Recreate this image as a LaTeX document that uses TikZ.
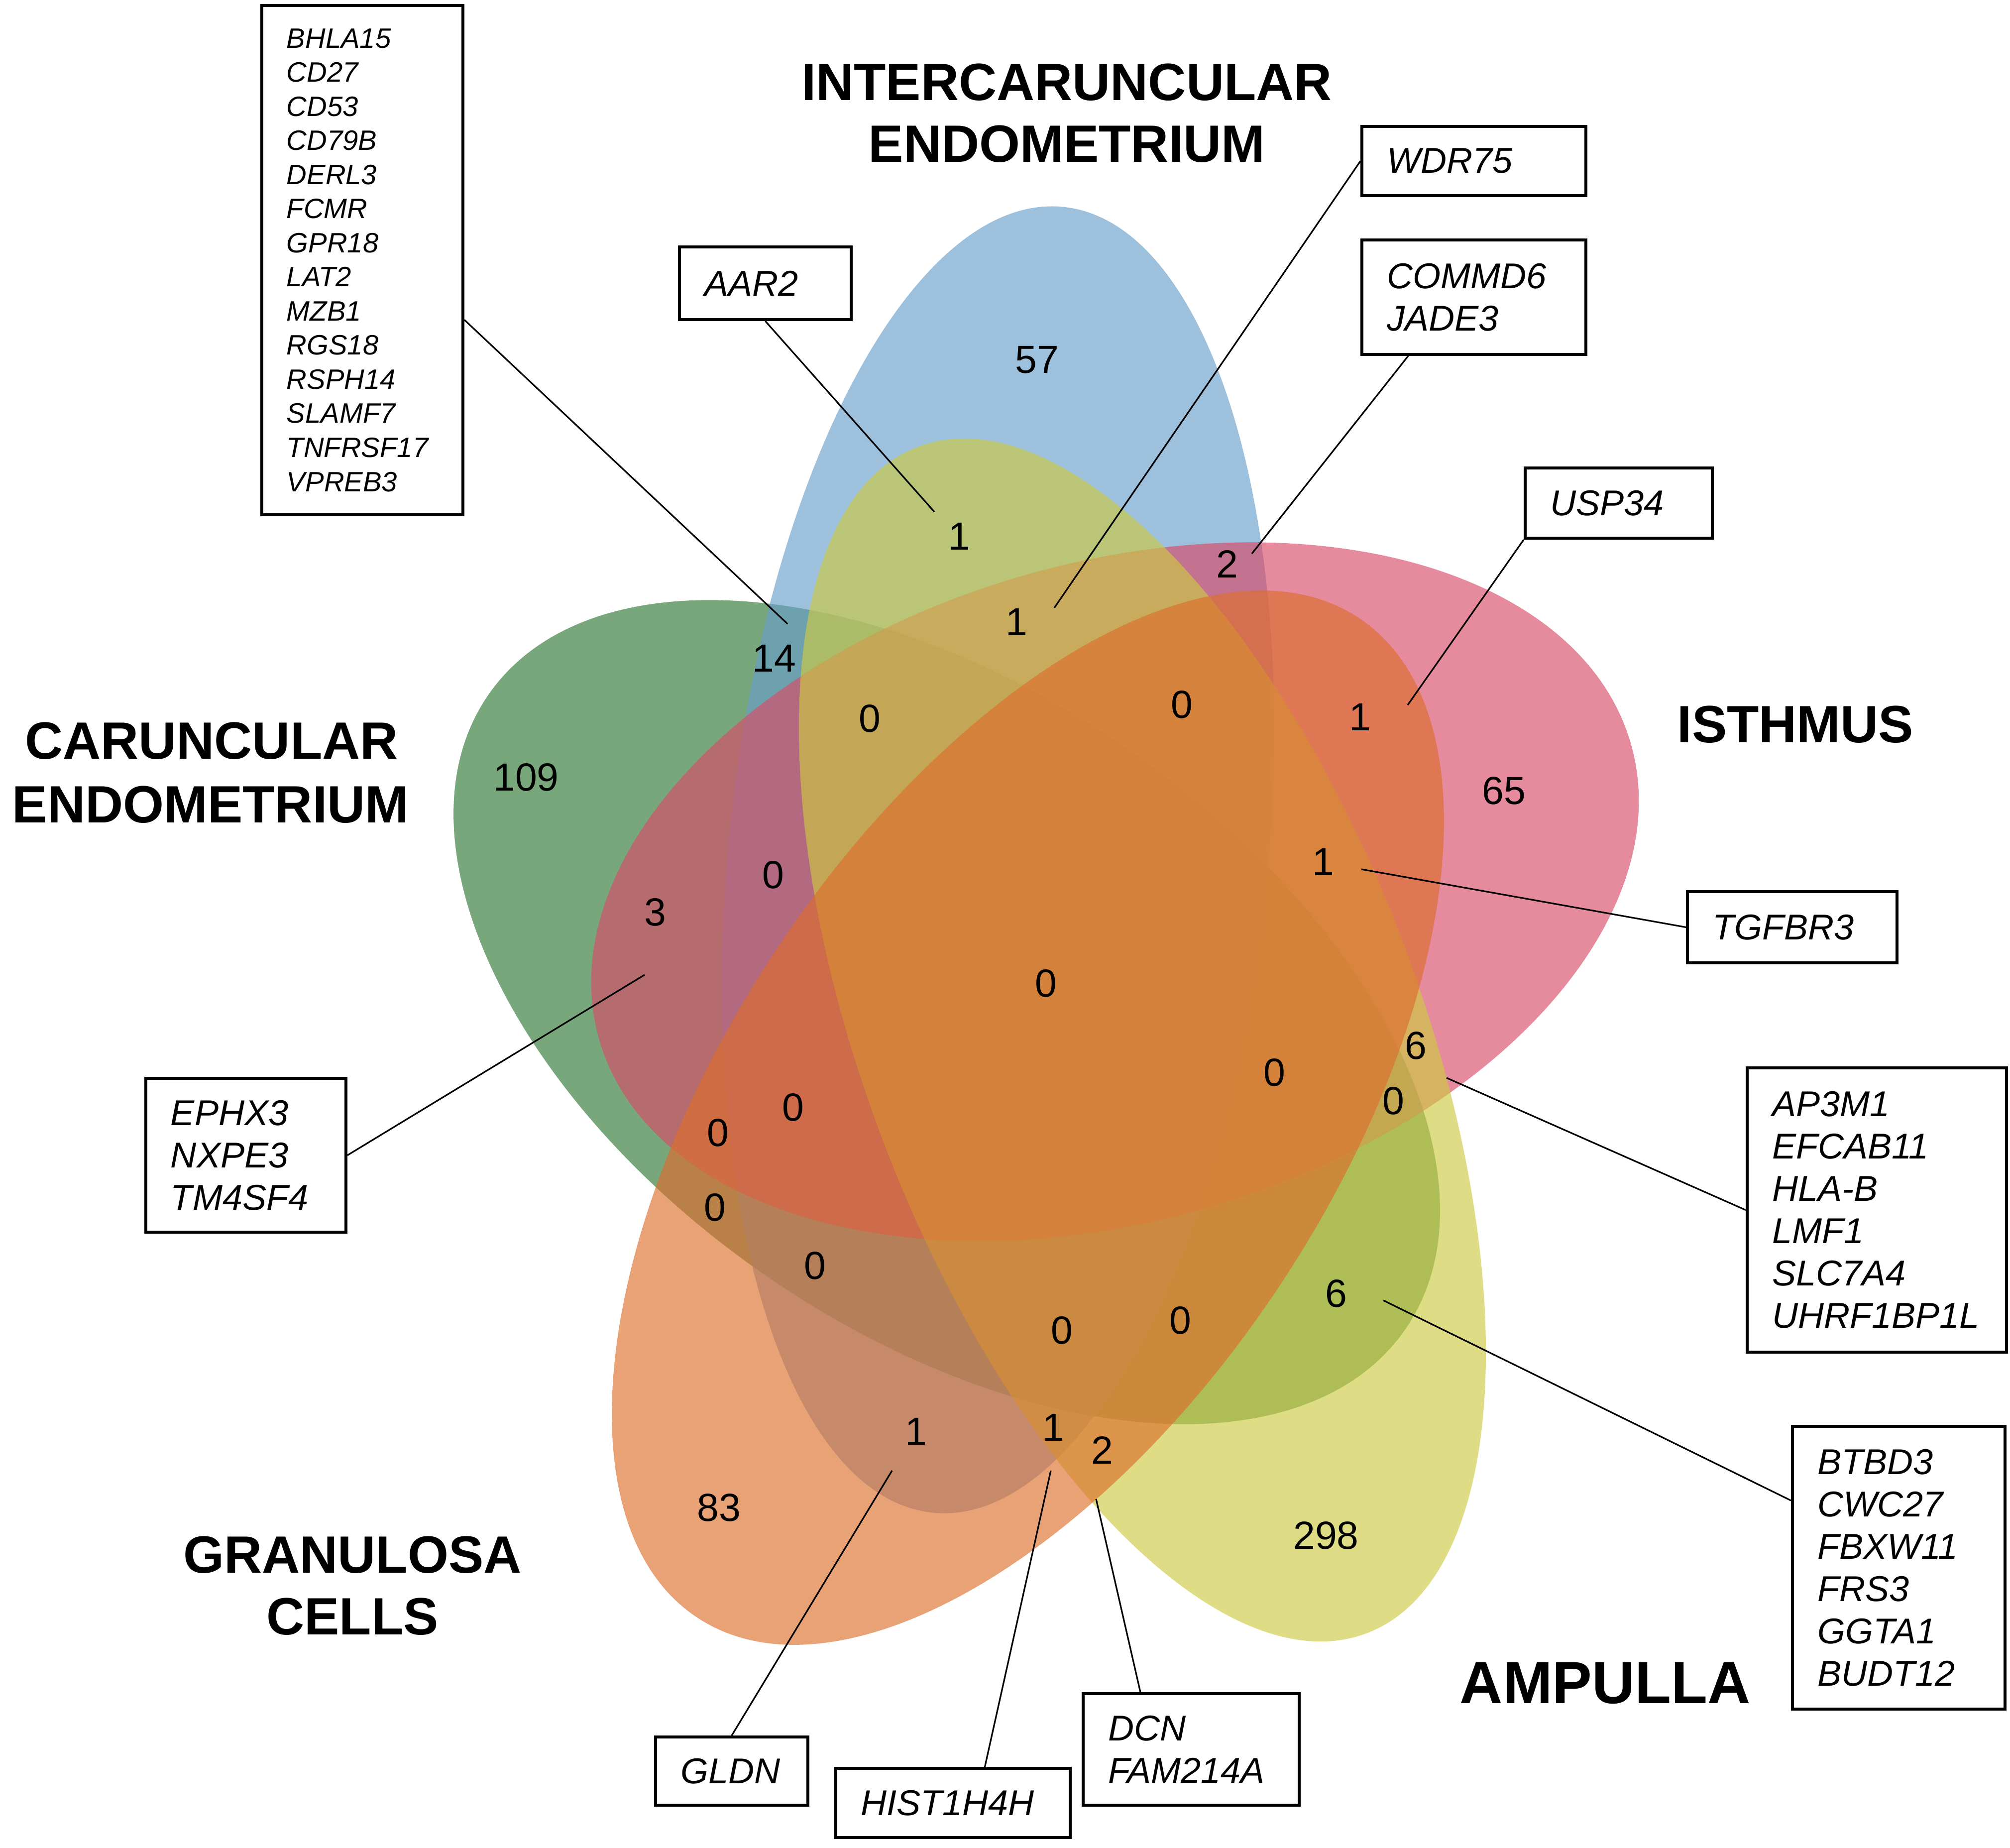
\documentclass[tikz,border=0pt]{standalone}
\usepackage{fontspec}
\setmainfont{Liberation Sans}
\usepackage{tikz}

\definecolor{petalgreen}{RGB}{47,120,53}
\definecolor{petalblue}{RGB}{104,158,201}
\definecolor{petalpink}{RGB}{217,75,104}
\definecolor{petalyellow}{RGB}{204,201,66}
\definecolor{petalorange}{RGB}{221,110,45}

\begin{document}
\begin{tikzpicture}[
  petal/.style={fill opacity=0.65},
  setname/.style={font=\bfseries\fontsize{30}{36}\selectfont, anchor=base, inner sep=0pt},
  count/.style={font=\fontsize{22.4}{27}\selectfont, inner sep=0pt},
  genebox/.style={draw, line width=1.7pt, anchor=north west, align=flush left,
    inner xsep=0.5cm, inner ysep=0pt, font=\itshape\fontsize{20.5}{24.2}\selectfont},
  link/.style={line width=0.9pt}
]
  \useasboundingbox (0,0) rectangle (40.38,-37.11);

  % the five petals
  \fill[petalgreen, petal, rotate around={-34.7:(19.02,-20.33)}] (19.02,-20.33) ellipse [x radius=11.20, y radius=6.42];
  \fill[petalblue, petal, rotate around={84.3:(20.05,-17.27)}] (20.05,-17.27) ellipse [x radius=13.18, y radius=5.42];
  \fill[petalpink, petal, rotate around={16:(22.40,-17.91)}] (22.40,-17.91) ellipse [x radius=10.78, y radius=6.61];
  \fill[petalyellow, petal, rotate around={110.7:(22.95,-20.89)}] (22.95,-20.89) ellipse [x radius=12.74, y radius=5.59];
  \fill[petalorange, petal, rotate around={56.5:(20.65,-22.45)}] (20.65,-22.45) ellipse [x radius=12.04, y radius=6.08];

  % set names
  \node[setname] (inter1) at (21.43,-2.01) {INTERCARUNCULAR};
  \node[setname] (inter2) at (21.43,-3.25) {ENDOMETRIUM};
  \node[setname] (caru1) at (4.25,-15.24) {CARUNCULAR};
  \node[setname] (caru2) at (4.23,-16.52) {ENDOMETRIUM};
  \node[setname] (isth) at (36.07,-14.91) {ISTHMUS};
  \node[setname] (gran1) at (7.08,-31.59) {GRANULOSA};
  \node[setname] (gran2) at (7.08,-32.83) {CELLS};
  \node[setname, font=\bfseries\fontsize{34}{40}\selectfont] (ampu) at (32.25,-34.21) {AMPULLA};

  % counts
  \node[count] (n57) at (20.83,-7.23) {57};
  \node[count] (nAAR) at (19.27,-10.77) {1};
  \node[count] (nWDR) at (20.42,-12.49) {1};
  \node[count] (nCOM) at (24.65,-11.33) {2};
  \node[count] (n14) at (15.55,-13.22) {14};
  \node[count] (z1) at (17.47,-14.43) {0};
  \node[count] (z2) at (23.74,-14.15) {0};
  \node[count] (nUSP) at (27.32,-14.40) {1};
  \node[count] (n109) at (10.57,-15.61) {109};
  \node[count] (n65) at (30.21,-15.88) {65};
  \node[count] (nTGF) at (26.58,-17.31) {1};
  \node[count] (z3) at (15.53,-17.57) {0};
  \node[count] (nEPH) at (13.16,-18.32) {3};
  \node[count] (z4) at (21.01,-19.75) {0};
  \node[count] (nAP3) at (28.44,-21.00) {6};
  \node[count] (z5) at (25.60,-21.54) {0};
  \node[count] (z6) at (27.99,-22.11) {0};
  \node[count] (z7) at (15.93,-22.24) {0};
  \node[count] (z8) at (14.42,-22.75) {0};
  \node[count] (z9) at (14.36,-24.25) {0};
  \node[count] (z10) at (16.37,-25.42) {0};
  \node[count] (nBTB) at (26.84,-25.98) {6};
  \node[count] (z11) at (23.71,-26.52) {0};
  \node[count] (z12) at (21.33,-26.72) {0};
  \node[count] (nGLD) at (18.40,-28.75) {1};
  \node[count] (nHIS) at (21.16,-28.67) {1};
  \node[count] (nDCN) at (22.14,-29.13) {2};
  \node[count] (n83) at (14.44,-30.28) {83};
  \node[count] (n298) at (26.64,-30.84) {298};

  % gene boxes
  \node[genebox, font=\itshape\fontsize{16}{19.5}\selectfont, text width=3.04cm, minimum height=10.23cm] (bigbox) at (5.23,-0.08)
    {BHLA15\\CD27\\CD53\\CD79B\\DERL3\\FCMR\\GPR18\\LAT2\\MZB1\\RGS18\\RSPH14\\SLAMF7\\TNFRSF17\\VPREB3};
  \node[genebox, text width=2.45cm, minimum height=1.46cm] (aar2) at (13.62,-4.93) {AAR2};
  \node[genebox, text width=3.50cm, minimum height=1.39cm] (wdr75) at (27.33,-2.51) {WDR75};
  \node[genebox, text width=3.50cm, minimum height=2.30cm] (commd6) at (27.33,-4.79) {COMMD6\\JADE3};
  \node[genebox, text width=2.76cm, minimum height=1.41cm] (usp34) at (30.61,-9.37) {USP34};
  \node[genebox, text width=3.21cm, minimum height=1.43cm] (tgfbr3) at (33.87,-17.88) {TGFBR3};
  \node[genebox, text width=4.21cm, minimum height=5.71cm] (ap3m1) at (35.07,-21.42)
    {AP3M1\\EFCAB11\\HLA-B\\LMF1\\SLC7A4\\UHRF1BP1L};
  \node[genebox, text width=3.27cm, minimum height=5.68cm] (btbd3) at (35.98,-28.62)
    {BTBD3\\CWC27\\FBXW11\\FRS3\\GGTA1\\BUDT12};
  \node[genebox, text width=3.02cm, minimum height=3.09cm] (ephx3) at (2.90,-21.63) {EPHX3\\NXPE3\\TM4SF4};
  \node[genebox, text width=2.06cm, minimum height=1.37cm] (gldn) at (13.14,-34.86) {GLDN};
  \node[genebox, text width=3.71cm, minimum height=1.39cm] (hist) at (16.76,-35.49) {HIST1H4H};
  \node[genebox, text width=3.34cm, minimum height=2.24cm] (dcn) at (21.73,-33.99) {DCN\\FAM214A};

  % free ends of the leader lines
  \coordinate (tip14) at (15.82,-12.53);
  \coordinate (tipAAR) at (18.77,-10.28);
  \coordinate (tipWDR) at (21.18,-12.21);
  \coordinate (tipCOM) at (25.15,-11.12);
  \coordinate (tipUSP) at (28.28,-14.16);
  \coordinate (tipTGF) at (27.35,-17.46);
  \coordinate (tipAP3) at (29.06,-21.65);
  \coordinate (tipBTB) at (27.79,-26.12);
  \coordinate (tipEPH) at (12.95,-19.58);
  \coordinate (tipGLD) at (17.92,-29.54);
  \coordinate (tipHIS) at (21.11,-29.54);
  \coordinate (tipDCN) at (22.02,-30.11);

  % leader lines
  \draw[link] ([yshift=-1.2cm]bigbox.east) -- (tip14);
  \draw[link] (aar2.south) -- (tipAAR);
  \draw[link] (wdr75.west) -- (tipWDR);
  \draw[link] ([xshift=-1.32cm]commd6.south) -- (tipCOM);
  \draw[link] (usp34.south west) -- (tipUSP);
  \draw[link] (tgfbr3.west) -- (tipTGF);
  \draw[link] (ap3m1.west) -- (tipAP3);
  \draw[link] ([yshift=1.35cm]btbd3.west) -- (tipBTB);
  \draw[link] (ephx3.east) -- (tipEPH);
  \draw[link] (gldn.north) -- (tipGLD);
  \draw[link] ([xshift=0.64cm]hist.north) -- (tipHIS);
  \draw[link] ([xshift=-1.02cm]dcn.north) -- (tipDCN);
\end{tikzpicture}
\end{document}
